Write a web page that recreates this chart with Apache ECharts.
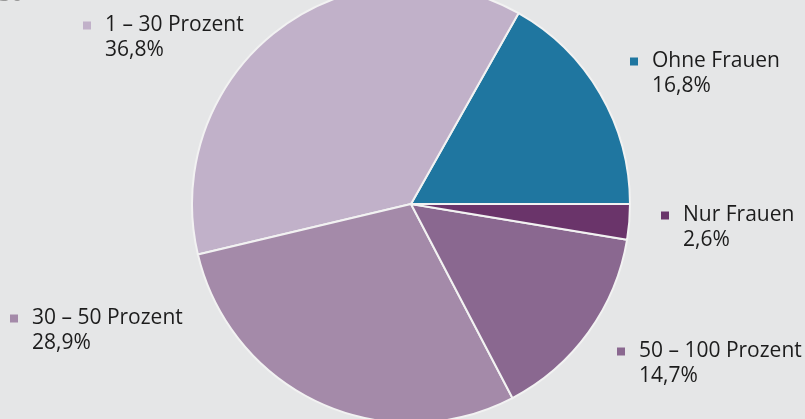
<!DOCTYPE html>
<html>
<head>
<meta charset="utf-8">
<script src="https://cdn.jsdelivr.net/npm/echarts@6/dist/echarts.min.js"></script>
<style>
  html, body { margin: 0; padding: 0; background: #e5e6e7; }
  #chart { width: 805px; height: 419px; }
</style>
</head>
<body>
<div id="chart"></div>
<script>
// Anteil weiblicher Beschäftigter – Verteilung der Betriebe
const categories = ['Ohne Frauen', '1 – 30 Prozent', '30 – 50 Prozent', '50 – 100 Prozent', 'Nur Frauen'];
const shares = [16.8, 36.8, 28.9, 14.7, 2.6];
const colors = ['#1f76a0', '#c1b1c9', '#a48aa9', '#8a6890', '#6a346a'];

// top-left corner of each label block
const labelAnchors = [[630, 49], [83, 13], [10, 306], [617, 339], [661, 203]];

const fmtPct = v => v.toFixed(1).replace('.', ',') + '%';

const chart = echarts.init(document.getElementById('chart'), null, { renderer: 'canvas' });

const textStyle = { fontSize: 21, color: '#1c1c1c', fontFamily: 'Open Sans', lineHeight: 25 };
const rich = {
  name: textStyle,
  val: textStyle,
  gap: { width: 14, height: 1 },
  pad: { width: 22, height: 1 }
};
colors.forEach((c, i) => {
  rich['sq' + i] = { width: 8, height: 8, backgroundColor: c };
});

chart.setOption({
  backgroundColor: '#e5e6e7',
  animation: false,
  graphic: [{
    type: 'text',
    x: -1,
    y: -15,
    style: { text: '30', fontSize: 21, fontFamily: 'Open Sans', fill: '#9a9a9a' },
    z: 100
  }],
  series: [{
    type: 'pie',
    center: [411, 204],
    radius: 219,
    startAngle: 0,
    clockwise: false,
    itemStyle: { borderColor: '#f2f2f2', borderWidth: 2 },
    data: categories.map((name, i) => ({
      name,
      value: shares[i],
      itemStyle: { color: colors[i] },
      label: {
        formatter: '{sq' + i + '|}{gap|}{name|' + name + '}\n{pad|}{val|' + fmtPct(shares[i]) + '}'
      }
    })),
    label: {
      show: true,
      position: 'outside',
      alignTo: 'none',
      overflow: 'none',
      rich: rich
    },
    labelLine: { show: false },
    labelLayout: function (params) {
      const a = labelAnchors[params.dataIndex];
      return { x: a[0], y: a[1], align: 'left', verticalAlign: 'top', hideOverlap: false, moveOverlap: false };
    },
    emphasis: { disabled: true }
  }]
});
</script>
</body>
</html>
